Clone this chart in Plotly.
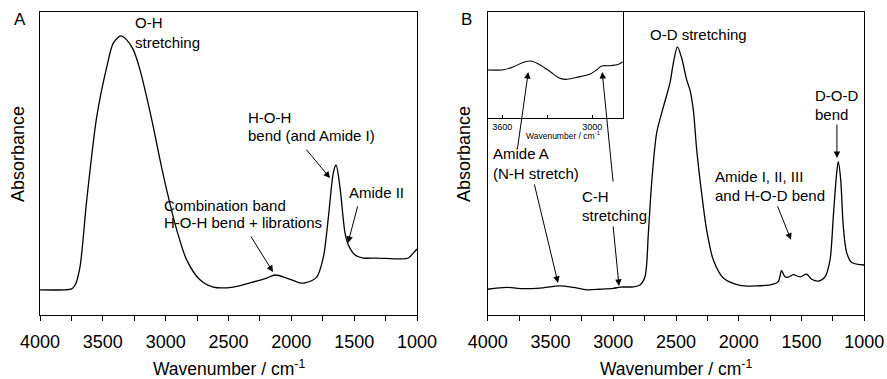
import plotly.graph_objects as go

W, H = 887, 379
FONT = "Liberation Sans, Arial, sans-serif"

# ---------------- data ----------------
# Panel A: H2O spectrum (wavenumber / cm-1, absorbance a.u.)
wn_a = [4000, 3800, 3748, 3720, 3682, 3628, 3549, 3469, 3416, 3358, 3310, 3257, 3204,
        3151, 3098, 3045, 2992, 2912, 2833, 2727, 2621, 2462, 2329, 2196, 2130, 2037,
        1931, 1891, 1798, 1745, 1705, 1666, 1644, 1613, 1573, 1546, 1493, 1427, 1321,
        1135, 1069, 1029, 1000]
abs_a = [0.083, 0.083, 0.086, 0.099, 0.158, 0.380, 0.653, 0.818, 0.898, 0.921, 0.908, 0.875, 0.809,
         0.719, 0.620, 0.512, 0.413, 0.281, 0.182, 0.116, 0.092, 0.092, 0.106, 0.122, 0.132, 0.122,
         0.106, 0.106, 0.125, 0.191, 0.323, 0.469, 0.495, 0.422, 0.271, 0.231, 0.198, 0.188, 0.188,
         0.185, 0.188, 0.205, 0.218]

# Panel B: D2O spectrum
wn_b = [4000, 3849, 3716, 3583, 3424, 3318, 3211, 3105, 2999, 2946, 2840, 2787, 2747, 2720,
        2694, 2654, 2601, 2548, 2521, 2489, 2455, 2415, 2389, 2362, 2335, 2296, 2256, 2203,
        2123, 1990, 1857, 1725, 1685, 1659, 1632, 1605, 1565, 1512, 1459, 1419, 1366, 1313,
        1273, 1247, 1220, 1207, 1188, 1167, 1140, 1100, 1000]
abs_b = [0.085, 0.091, 0.087, 0.089, 0.096, 0.091, 0.083, 0.085, 0.088, 0.092, 0.093, 0.099, 0.126, 0.271,
         0.436, 0.601, 0.686, 0.766, 0.832, 0.885, 0.848, 0.776, 0.743, 0.677, 0.545, 0.403, 0.281, 0.182,
         0.122, 0.098, 0.096, 0.102, 0.110, 0.146, 0.126, 0.125, 0.133, 0.126, 0.135, 0.118, 0.112, 0.126,
         0.182, 0.324, 0.469, 0.506, 0.446, 0.290, 0.205, 0.173, 0.165]

# Inset of panel B (zoom on 3700-2800 cm-1)
wn_in = [3698, 3591, 3524, 3458, 3413, 3347, 3280, 3224, 3180, 3102, 3013, 2958, 2940, 2924, 2880, 2824, 2796]
abs_in = [0.451, 0.454, 0.483, 0.524, 0.536, 0.499, 0.435, 0.378, 0.363, 0.382, 0.413, 0.467, 0.487, 0.492, 0.492, 0.505, 0.530]

main_ticks = [4000, 3500, 3000, 2500, 2000, 1500, 1000]
inset_ticks = [3600, 3000]

# ---------------- figure ----------------
def px(x):
    return x / W

def py(y):
    return 1 - y / H

fig = go.Figure()
line = dict(color="black", width=1.3)
fig.add_trace(go.Scatter(x=wn_a, y=abs_a, mode="lines", line=dict(line, shape="spline", smoothing=0.8),
                         xaxis="x", yaxis="y", showlegend=False, hoverinfo="skip"))
fig.add_trace(go.Scatter(x=wn_b, y=abs_b, mode="lines", line=dict(line, shape="spline", smoothing=0.8),
                         xaxis="x2", yaxis="y2", showlegend=False, hoverinfo="skip"))
fig.add_trace(go.Scatter(x=wn_in, y=abs_in, mode="lines", line=dict(color="black", width=1.1, shape="spline", smoothing=0.8),
                         xaxis="x3", yaxis="y3", showlegend=False, hoverinfo="skip"))

ydom = [py(315), py(12)]
main_x = dict(range=[4000, 1000], tickvals=main_ticks, ticktext=[str(t) for t in main_ticks],
              ticks="outside", ticklen=5, tickwidth=1, tickcolor="black", ticklabelstandoff=5,
              minor=dict(ticks="outside", ticklen=5, tickwidth=1, tickcolor="black", dtick=250, tick0=1000),
              showline=True, linecolor="black", linewidth=1, mirror=True, showgrid=False, zeroline=False,
              automargin=False, tickfont=dict(family=FONT, size=18, color="black"))
main_y = dict(range=[0, 1], showticklabels=False, ticks="", showline=True, linecolor="black",
              linewidth=1, mirror=True, showgrid=False, zeroline=False, automargin=False)

fig.update_layout(
    template="none",
    width=W, height=H, margin=dict(l=0, r=0, t=0, b=0, pad=0), autosize=False,
    paper_bgcolor="white", plot_bgcolor="white",
    xaxis=dict(main_x, domain=[px(40), px(417)], anchor="y"),
    yaxis=dict(main_y, domain=ydom, anchor="x"),
    xaxis2=dict(main_x, domain=[px(487.7), px(864.3)], anchor="y2"),
    yaxis2=dict(main_y, domain=ydom, anchor="x2"),
    xaxis3=dict(range=[3698, 2796], tickvals=inset_ticks, ticktext=[str(t) for t in inset_ticks],
                ticks="inside", ticklen=3, tickcolor="black",
                minor=dict(ticks="inside", ticklen=3, tickcolor="black", dtick=300, tick0=3000),
                showline=True, linecolor="black", linewidth=1, mirror=True, showgrid=False, zeroline=False,
                automargin=False, tickfont=dict(family=FONT, size=9, color="black"),
                domain=[px(487.7), px(622.7)], anchor="y3"),
    yaxis3=dict(range=[0, 1], showticklabels=False, ticks="", showline=True, linecolor="black",
                linewidth=1, mirror=True, showgrid=False, zeroline=False, automargin=False,
                domain=[py(117.7), py(12)], anchor="x3"),
    font=dict(family=FONT, color="black"),
    showlegend=False,
)

ann = []

def text(t, x, y, size=15, xanchor="left", angle=0):
    ann.append(dict(text=t, x=px(x), y=py(y), xref="paper", yref="paper", xanchor=xanchor,
                    yanchor="middle", showarrow=False, textangle=angle,
                    font=dict(family=FONT, size=size, color="black")))

# panel letters
text("A", 12, 19, size=17)
text("B", 459, 19, size=17)
# axis titles
text("Wavenumber / cm<sup>-1</sup>", 228.5, 368, size=17.5, xanchor="center")
text("Wavenumber / cm<sup>-1</sup>", 676, 368, size=17.5, xanchor="center")
text("Absorbance", 18, 154, size=18, xanchor="center", angle=-90)
text("Absorbance", 464, 154, size=18, xanchor="center", angle=-90)
text("Wavenumber / cm<sup>-1</sup>", 563, 136, size=8.5, xanchor="center")

# panel A labels
text("O-H", 133, 23)
text("stretching", 133, 42)
text("H-O-H", 246, 117.5)
text("bend (and Amide I)", 246, 135)
text("Combination band", 162, 205)
text("H-O-H bend + librations", 162, 222.5)
text("Amide II", 347, 192.5)
# panel B labels
text("O-D stretching", 648, 34)
text("D-O-D", 813, 95)
text("bend", 813, 114)
text("Amide I, II, III", 713, 176.5)
text("and H-O-D bend", 713, 195)
text("Amide A", 491, 154)
text("(N-H stretch)", 491, 173.5)
text("C-H", 580, 196.5)
text("stretching", 580, 215)

def arrow(x, y, ax, ay, xr, yr):
    ann.append(dict(x=x, y=y, xref=xr, yref=yr, ax=ax, ay=ay, axref="pixel", ayref="pixel",
                    text="", showarrow=True, arrowhead=2, arrowsize=1.3, arrowwidth=1,
                    arrowcolor="black"))

arrow(2146, 0.142, -23, -37, "x", "y")
arrow(1692, 0.452, -25, -30, "x", "y")
arrow(1549, 0.238, 10, -38, "x", "y")
arrow(1218, 0.518, 0, -35, "x2", "y2")
arrow(1584, 0.248, -14, -35, "x2", "y2")
arrow(3440, 0.106, -24, -100, "x2", "y2")
arrow(2954, 0.096, -6, -61, "x2", "y2")
arrow(3427, 0.432, -11, 78, "x3", "y3")
arrow(2933, 0.432, 11, 111, "x3", "y3")

fig.update_layout(annotations=ann)
fig.write_html("out.html")
